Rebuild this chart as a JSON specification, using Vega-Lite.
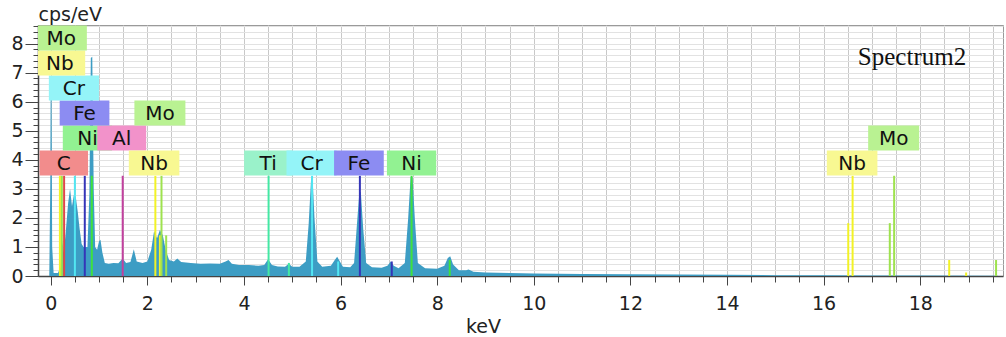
{
  "$schema": "https://vega.github.io/schema/vega-lite/v6.json",
  "width": 965,
  "height": 251,
  "autosize": {"type": "none"},
  "padding": {"left": 38, "top": 25, "right": 3, "bottom": 61},
  "background": "white",
  "config": {"view": {"stroke": "#9a9a9a"}, "font": "DejaVu Sans"},
  "datasets": {
    "spectrum": [
      {"keV": -0.16, "cps": 0}, {"keV": -0.03, "cps": 0}, {"keV": -0.01, "cps": 3.0}, {"keV": 0.0, "cps": 6.86}, {"keV": 0.015, "cps": 6.86}, {"keV": 0.03, "cps": 1.0}, {"keV": 0.06, "cps": 0.1}, {"keV": 0.15, "cps": 0.1}, {"keV": 0.2, "cps": 0.3}, {"keV": 0.24, "cps": 1.2}, {"keV": 0.27, "cps": 0.8}, {"keV": 0.31, "cps": 1.5}, {"keV": 0.36, "cps": 2.5}, {"keV": 0.4, "cps": 3.0}, {"keV": 0.44, "cps": 2.4}, {"keV": 0.48, "cps": 2.8}, {"keV": 0.52, "cps": 2.7}, {"keV": 0.56, "cps": 2.2}, {"keV": 0.6, "cps": 1.6}, {"keV": 0.64, "cps": 1.1}, {"keV": 0.68, "cps": 1.0}, {"keV": 0.72, "cps": 1.0}, {"keV": 0.76, "cps": 1.0}, {"keV": 0.8, "cps": 2.8}, {"keV": 0.83, "cps": 7.5}, {"keV": 0.86, "cps": 7.55}, {"keV": 0.89, "cps": 3.0}, {"keV": 0.92, "cps": 1.0}, {"keV": 0.96, "cps": 0.9}, {"keV": 1.0, "cps": 1.2}, {"keV": 1.03, "cps": 1.25}, {"keV": 1.07, "cps": 0.8}, {"keV": 1.12, "cps": 0.45}, {"keV": 1.2, "cps": 0.42}, {"keV": 1.3, "cps": 0.45}, {"keV": 1.4, "cps": 0.44}, {"keV": 1.49, "cps": 0.6}, {"keV": 1.56, "cps": 0.45}, {"keV": 1.65, "cps": 0.48}, {"keV": 1.72, "cps": 0.92}, {"keV": 1.78, "cps": 0.5}, {"keV": 1.9, "cps": 0.45}, {"keV": 2.0, "cps": 0.5}, {"keV": 2.08, "cps": 0.9}, {"keV": 2.14, "cps": 1.55}, {"keV": 2.2, "cps": 1.3}, {"keV": 2.26, "cps": 1.58}, {"keV": 2.32, "cps": 1.4}, {"keV": 2.38, "cps": 0.9}, {"keV": 2.45, "cps": 0.55}, {"keV": 2.55, "cps": 0.5}, {"keV": 2.62, "cps": 0.6}, {"keV": 2.7, "cps": 0.48}, {"keV": 2.9, "cps": 0.45}, {"keV": 3.1, "cps": 0.42}, {"keV": 3.3, "cps": 0.43}, {"keV": 3.5, "cps": 0.42}, {"keV": 3.62, "cps": 0.5}, {"keV": 3.68, "cps": 0.55}, {"keV": 3.75, "cps": 0.42}, {"keV": 3.9, "cps": 0.38}, {"keV": 4.1, "cps": 0.38}, {"keV": 4.3, "cps": 0.35}, {"keV": 4.42, "cps": 0.38}, {"keV": 4.5, "cps": 0.58}, {"keV": 4.58, "cps": 0.38}, {"keV": 4.7, "cps": 0.33}, {"keV": 4.85, "cps": 0.32}, {"keV": 4.93, "cps": 0.42}, {"keV": 5.0, "cps": 0.32}, {"keV": 5.15, "cps": 0.32}, {"keV": 5.28, "cps": 0.5}, {"keV": 5.34, "cps": 1.8}, {"keV": 5.39, "cps": 3.35}, {"keV": 5.42, "cps": 3.4}, {"keV": 5.46, "cps": 2.0}, {"keV": 5.52, "cps": 0.5}, {"keV": 5.62, "cps": 0.32}, {"keV": 5.8, "cps": 0.35}, {"keV": 5.88, "cps": 0.55}, {"keV": 5.93, "cps": 0.66}, {"keV": 5.98, "cps": 0.52}, {"keV": 6.05, "cps": 0.32}, {"keV": 6.2, "cps": 0.3}, {"keV": 6.28, "cps": 0.45}, {"keV": 6.34, "cps": 1.8}, {"keV": 6.39, "cps": 2.9}, {"keV": 6.42, "cps": 2.88}, {"keV": 6.47, "cps": 1.6}, {"keV": 6.53, "cps": 0.45}, {"keV": 6.65, "cps": 0.3}, {"keV": 6.85, "cps": 0.28}, {"keV": 6.97, "cps": 0.35}, {"keV": 7.04, "cps": 0.5}, {"keV": 7.1, "cps": 0.35}, {"keV": 7.2, "cps": 0.27}, {"keV": 7.33, "cps": 0.45}, {"keV": 7.4, "cps": 2.0}, {"keV": 7.45, "cps": 3.4}, {"keV": 7.49, "cps": 3.4}, {"keV": 7.54, "cps": 1.9}, {"keV": 7.6, "cps": 0.45}, {"keV": 7.75, "cps": 0.27}, {"keV": 8.0, "cps": 0.25}, {"keV": 8.15, "cps": 0.35}, {"keV": 8.22, "cps": 0.62}, {"keV": 8.27, "cps": 0.68}, {"keV": 8.33, "cps": 0.4}, {"keV": 8.45, "cps": 0.2}, {"keV": 8.6, "cps": 0.2}, {"keV": 8.65, "cps": 0.22}, {"keV": 8.75, "cps": 0.15}, {"keV": 9.0, "cps": 0.12}, {"keV": 9.5, "cps": 0.1}, {"keV": 10.0, "cps": 0.09}, {"keV": 11.0, "cps": 0.07}, {"keV": 12.0, "cps": 0.06}, {"keV": 13.0, "cps": 0.05}, {"keV": 14.0, "cps": 0.04}, {"keV": 15.0, "cps": 0.03}, {"keV": 16.0, "cps": 0.025}, {"keV": 17.0, "cps": 0.02}, {"keV": 18.0, "cps": 0.015}, {"keV": 19.61, "cps": 0.01}
    ],
    "markers": [
      {"el": "Nb", "keV": 0.19, "cps": 3.45}, {"el": "Mo", "keV": 0.23, "cps": 3.45}, {"el": "C", "keV": 0.277, "cps": 3.45},
      {"el": "Cr", "keV": 0.5, "cps": 3.45}, {"el": "Fe", "keV": 0.705, "cps": 3.45}, {"el": "Ni", "keV": 0.85, "cps": 3.45},
      {"el": "Al", "keV": 1.49, "cps": 3.45}, {"el": "Nb", "keV": 2.166, "cps": 3.45}, {"el": "Nb", "keV": 2.26, "cps": 1.4},
      {"el": "Mo", "keV": 2.293, "cps": 3.45}, {"el": "Mo", "keV": 2.39, "cps": 1.4},
      {"el": "Ti", "keV": 4.51, "cps": 3.45}, {"el": "Ti", "keV": 4.93, "cps": 0.45},
      {"el": "Cr", "keV": 5.41, "cps": 3.45}, {"el": "Cr", "keV": 5.95, "cps": 0.5},
      {"el": "Fe", "keV": 6.4, "cps": 3.45}, {"el": "Fe", "keV": 7.06, "cps": 0.5},
      {"el": "Ni", "keV": 7.47, "cps": 3.45}, {"el": "Ni", "keV": 8.26, "cps": 0.55},
      {"el": "Nb", "keV": 16.51, "cps": 1.82}, {"el": "Nb", "keV": 16.6, "cps": 3.45}, {"el": "Nb", "keV": 18.6, "cps": 0.55}, {"el": "Nb", "keV": 18.95, "cps": 0.12},
      {"el": "Mo", "keV": 17.37, "cps": 1.82}, {"el": "Mo", "keV": 17.46, "cps": 3.45}, {"el": "Mo", "keV": 19.57, "cps": 0.55}
    ],
    "labels": [
      {"el": "C", "keV": 0.27, "bot": 3.46, "cps": 4.32},
      {"el": "Ni", "keV": 0.76, "bot": 4.32, "cps": 5.18},
      {"el": "Al", "keV": 1.47, "bot": 4.32, "cps": 5.18},
      {"el": "Fe", "keV": 0.7, "bot": 5.18, "cps": 6.04},
      {"el": "Mo", "keV": 2.26, "bot": 5.18, "cps": 6.04},
      {"el": "Cr", "keV": 0.48, "bot": 6.04, "cps": 6.9},
      {"el": "Nb", "keV": 0.19, "bot": 6.9, "cps": 7.76},
      {"el": "Mo", "keV": 0.22, "bot": 7.76, "cps": 8.62},
      {"el": "Nb", "keV": 2.14, "bot": 3.46, "cps": 4.32},
      {"el": "Ti", "keV": 4.5, "bot": 3.46, "cps": 4.32},
      {"el": "Cr", "keV": 5.4, "bot": 3.46, "cps": 4.32},
      {"el": "Fe", "keV": 6.38, "bot": 3.46, "cps": 4.32},
      {"el": "Ni", "keV": 7.47, "bot": 3.46, "cps": 4.32},
      {"el": "Nb", "keV": 16.59, "bot": 3.46, "cps": 4.32},
      {"el": "Mo", "keV": 17.45, "bot": 4.32, "cps": 5.18}
    ],
    "caption": [
      {"keV": 17.83, "cps": 7.54, "txt": "Spectrum2"}
    ]
  },
  "encoding": {
    "x": {
      "field": "keV", "type": "quantitative",
      "scale": {"domain": [-0.16, 19.61], "nice": false, "zero": false},
      "axis": {
        "title": "keV",
        "values": [0,0.5,1,1.5,2,2.5,3,3.5,4,4.5,5,5.5,6,6.5,7,7.5,8,8.5,9,9.5,10,10.5,11,11.5,12,12.5,13,13.5,14,14.5,15,15.5,16,16.5,17,17.5,18,18.5,19,19.5],
        "labelExpr": "datum.value % 2 === 0 ? '' + datum.value : ''",
        "labelFlush": false, "labelOverlap": false,
        "grid": true, "gridColor": "#c8c8c8", "gridWidth": 1,
        "tickSize": {"condition": {"test": "datum.value % 2 === 0", "value": 9}, "value": 6},
        "tickColor": "#444", "domainColor": "#444", "domainWidth": 1.5,
        "labelFontSize": 19, "labelColor": "#222", "labelBaseline": "alphabetic", "labelPadding": 24,
        "titleFontSize": 19, "titleFontWeight": "normal", "titleColor": "#222",
        "titleX": 445, "titleY": 56, "titleBaseline": "alphabetic", "titleAlign": "center"
      }
    },
    "y": {
      "field": "cps", "type": "quantitative",
      "scale": {"domain": [0, 8.64], "nice": false},
      "axis": {
        "title": "cps/eV",
        "values": [0,0.2,0.4,0.6,0.8,1,1.2,1.4,1.6,1.8,2,2.2,2.4,2.6,2.8,3,3.2,3.4,3.6,3.8,4,4.2,4.4,4.6,4.8,5,5.2,5.4,5.6,5.8,6,6.2,6.4,6.6,6.8,7,7.2,7.4,7.6,7.8,8,8.2,8.4,8.6],
        "labelExpr": "datum.value % 1 === 0 ? '' + datum.value : ''",
        "labelOverlap": false, "labelFlush": false,
        "grid": true, "gridColor": "#e2e2e2", "gridWidth": 1,
        "tickSize": {"condition": {"test": "datum.value % 1 === 0", "value": 13}, "value": 5},
        "tickColor": "#444", "domainColor": "#444", "domainWidth": 1.5,
        "labelFontSize": 19, "labelColor": "#222", "labelPadding": 2,
        "titleFontSize": 19, "titleFontWeight": "normal", "titleColor": "#222",
        "titleAngle": 0, "titleX": 0, "titleY": -5, "titleAlign": "left", "titleBaseline": "alphabetic"
      }
    }
  },
  "layer": [
    {
      "data": {"name": "spectrum"},
      "mark": {"type": "area", "color": "#3d9dc4", "interpolate": "linear"}
    },
    {
      "data": {"name": "markers"},
      "mark": {"type": "rule", "strokeWidth": 2},
      "encoding": {
        "y2": {"datum": 0},
        "stroke": {
          "field": "el", "type": "nominal", "legend": null,
          "scale": {"domain": ["Mo","Nb","Cr","Fe","Ni","Al","C","Ti"], "range": ["#9ee24e","#f2f226","#52e6f2","#3535b8","#3ee23e","#c2409e","#e04848","#44e8a4"]}
        }
      }
    },
    {
      "data": {"name": "labels"},
      "mark": {"type": "bar", "clip": true},
      "encoding": {
        "y2": {"field": "bot"},
        "size": {
          "field": "el", "type": "ordinal", "legend": null,
          "scale": {"domain": ["Mo","Nb","Cr","Fe","Ni","Al","C","Ti"], "range": [51,48,44,46,40,39,32,37]}
        },
        "fill": {
          "field": "el", "type": "nominal", "legend": null,
          "scale": {"domain": ["Mo","Nb","Cr","Fe","Ni","Al","C","Ti"], "range": ["#b9f292","#f8f892","#94f4f8","#8c8cf2","#92f292","#f292ca","#f28c8c","#9af2ca"]}
        }
      }
    },
    {
      "data": {"name": "labels"},
      "mark": {"type": "text", "fontSize": 20, "baseline": "middle", "align": "center", "dy": 13, "color": "#111", "font": "DejaVu Sans"},
      "encoding": {
        "text": {"field": "el"}
      }
    },
    {
      "data": {"name": "caption"},
      "mark": {"type": "text", "font": "Liberation Serif", "fontSize": 25, "align": "center", "baseline": "middle", "color": "#111"},
      "encoding": {
        "text": {"field": "txt"}
      }
    }
  ]
}
